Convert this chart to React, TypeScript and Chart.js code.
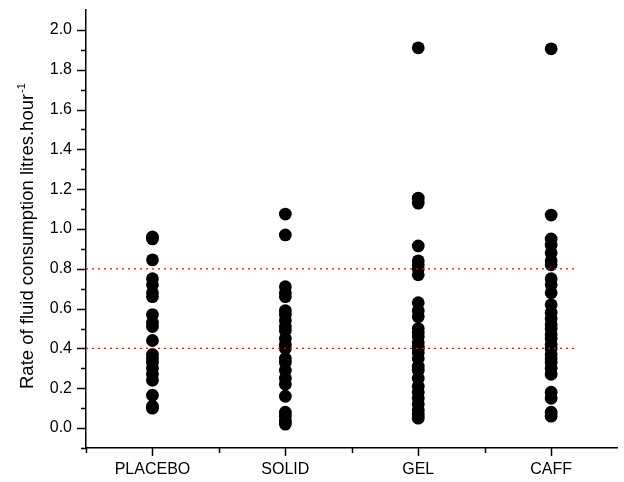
import { useEffect, useRef } from "react";
import { Chart, registerables } from "chart.js";

Chart.register(...registerables);

const categories = ["PLACEBO", "SOLID", "GEL", "CAFF"];

const placebo = [0.96, 0.95, 0.845, 0.75, 0.72, 0.68, 0.66, 0.57, 0.53, 0.51, 0.44, 0.37, 0.35, 0.33, 0.30, 0.27, 0.24, 0.165, 0.11, 0.10];
const solid = [1.075, 0.97, 0.71, 0.68, 0.66, 0.59, 0.57, 0.54, 0.51, 0.49, 0.45, 0.42, 0.40, 0.35, 0.33, 0.29, 0.25, 0.22, 0.16, 0.08, 0.06, 0.035, 0.02];
const gel = [1.91, 1.155, 1.13, 0.915, 0.84, 0.82, 0.80, 0.77, 0.63, 0.59, 0.56, 0.50, 0.48, 0.46, 0.43, 0.41, 0.40, 0.38, 0.35, 0.31, 0.29, 0.25, 0.21, 0.18, 0.15, 0.12, 0.09, 0.07, 0.05];
const caff = [1.905, 1.07, 0.95, 0.92, 0.88, 0.84, 0.82, 0.75, 0.72, 0.68, 0.62, 0.58, 0.55, 0.52, 0.50, 0.47, 0.45, 0.42, 0.40, 0.37, 0.35, 0.33, 0.30, 0.27, 0.18, 0.15, 0.08, 0.06];

const groups = [placebo, solid, gel, caff];

const refLevels = [0.4, 0.8];
const refLineStart = 0.5;
const refLineEnd = 4.19;

const yMin = -0.1;
const yMax = 2.1;
const xMin = 0.5;
const xMax = 4.5;

const yTitle = "Rate of fluid consumption litres.hour";
const yTitleSup = "-1";

const FONT = "'Liberation Sans', Arial, sans-serif";

const tickPlugin = {
  id: "customTicks",
  afterDraw(chart: any) {
    const ctx = chart.ctx;
    const xs = chart.scales.x;
    const ys = chart.scales.y;
    const area = chart.chartArea;
    ctx.save();
    ctx.strokeStyle = "#000";
    ctx.lineWidth = 1.5;
    ys.ticks.forEach((t: any) => {
      const v = Math.round(t.value * 10);
      if (v >= Math.round(yMax * 10)) return;
      const major = v % 2 === 0;
      const py = Math.round(ys.getPixelForValue(t.value)) + 0.5;
      ctx.beginPath();
      ctx.moveTo(area.left - (major ? 9 : 5), py);
      ctx.lineTo(area.left, py);
      ctx.stroke();
    });
    xs.ticks.forEach((t: any) => {
      const v = Math.round(t.value * 2);
      if (v >= Math.round(xMax * 2)) return;
      const major = v % 2 === 0;
      const px = Math.round(xs.getPixelForValue(t.value)) + 0.5;
      ctx.beginPath();
      ctx.moveTo(px, area.bottom);
      ctx.lineTo(px, area.bottom + (major ? 8 : 5));
      ctx.stroke();
    });
    // y axis title with superscript
    ctx.fillStyle = "#000";
    ctx.translate(33, 389);
    ctx.rotate(-Math.PI / 2);
    ctx.font = `18.5px ${FONT}`;
    ctx.textBaseline = "alphabetic";
    ctx.textAlign = "left";
    ctx.fillText(yTitle, 0, 0);
    const w = ctx.measureText(yTitle).width;
    ctx.font = `11px ${FONT}`;
    ctx.fillText(yTitleSup, w + 1, -8);
    ctx.restore();
  },
};

export default function App() {
  const ref = useRef<HTMLCanvasElement | null>(null);

  useEffect(() => {
    document.body.style.margin = "0";
    if (!ref.current) return;
    const refDatasets = refLevels.map((lv) => ({
      type: "scatter" as const,
      showLine: true,
      data: [
        { x: refLineStart, y: lv },
        { x: refLineEnd, y: lv },
      ],
      borderColor: "rgb(255,0,0)",
      backgroundColor: "rgb(255,0,0)",
      borderWidth: 1.2,
      borderDash: [2, 4],
      pointRadius: 0,
      fill: false,
      order: 0,
    }));
    const pointDatasets = groups.map((vals, i) => ({
      type: "scatter" as const,
      label: categories[i],
      data: vals.map((v) => ({ x: i + 1, y: v })),
      backgroundColor: "#000",
      borderColor: "#000",
      borderWidth: 0,
      pointRadius: 6.4,
      order: 1,
    }));
    const chart = new Chart(ref.current, {
      type: "scatter",
      data: { datasets: [...pointDatasets, ...refDatasets] as any },
      plugins: [tickPlugin],
      options: {
        animation: false,
        responsive: false,
        layout: { padding: { top: 10, right: 4, left: 0, bottom: 0 } },
        plugins: { legend: { display: false }, tooltip: { enabled: false } },
        scales: {
          x: {
            type: "linear",
            min: xMin,
            max: xMax,
            afterFit: (s: any) => {
              s.height = 34;
              s.paddingLeft = 0;
              s.paddingRight = 0;
            },
            grid: { display: true, drawOnChartArea: false, drawTicks: true, tickLength: 8, tickColor: "transparent" },
            border: { display: true, color: "#000", width: 1.5 },
            ticks: {
              stepSize: 0.5,
              autoSkip: false,
              maxRotation: 0,
              padding: 4,
              color: "#000",
              font: { family: FONT, size: 16 },
              callback: (value: any) => {
                const v = Math.round(Number(value) * 2);
                if (v % 2 !== 0) return "";
                const idx = v / 2 - 1;
                return categories[idx] ?? "";
              },
            },
          },
          y: {
            type: "linear",
            min: yMin,
            max: yMax,
            afterFit: (s: any) => {
              s.width = 86;
              s.paddingTop = 0;
              s.paddingBottom = 0;
            },
            grid: { display: true, drawOnChartArea: false, drawTicks: true, tickLength: 9, tickColor: "transparent" },
            border: { display: true, color: "#000", width: 1.5 },
            ticks: {
              stepSize: 0.1,
              autoSkip: false,
              padding: 5,
              color: "#000",
              font: { family: FONT, size: 16 },
              callback: (value: any) => {
                const v = Math.round(Number(value) * 10);
                if (v < 0 || v > 20 || v % 2 !== 0) return "";
                return (v / 10).toFixed(1);
              },
            },
          },
        },
      },
    });
    return () => chart.destroy();
  }, []);

  return <canvas ref={ref} width={624} height={482} style={{ display: "block" }} />;
}
